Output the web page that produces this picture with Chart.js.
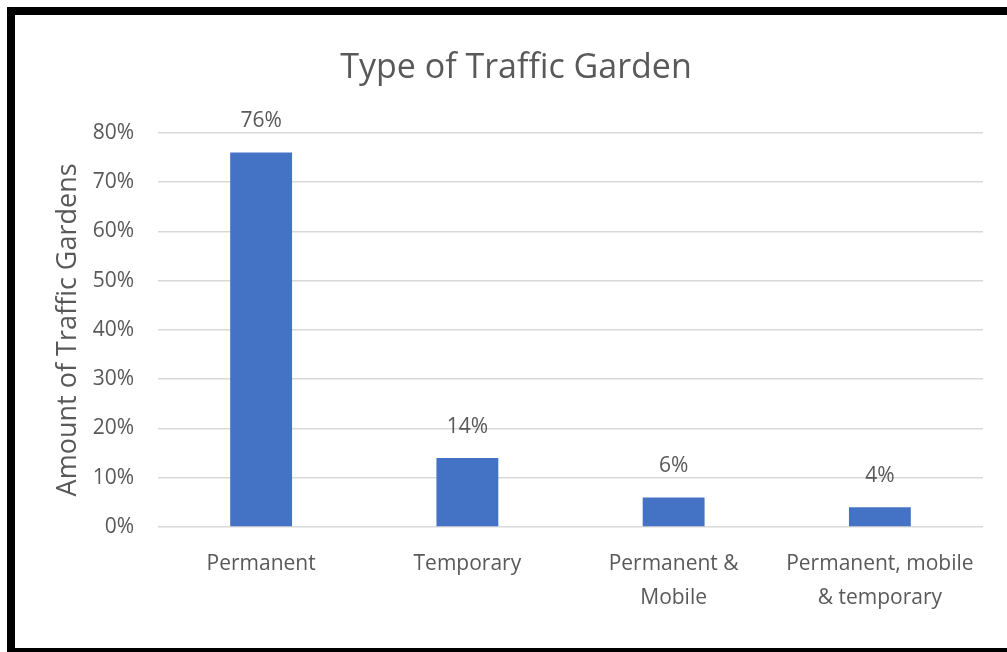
<!DOCTYPE html>
<html>
<head>
<meta charset="utf-8">
<script src="https://cdn.jsdelivr.net/npm/chart.js@4.4.1/dist/chart.umd.min.js"></script>
<style>
  html, body { margin: 0; padding: 0; background: #fff; overflow: hidden; }
  #frame {
    position: absolute; left: 7px; top: 7px;
    width: 992px; height: 633px;
    border-left: 8px solid #000; border-top: 8px solid #000; border-bottom: 8px solid #000;
    background: #fff;
  }
  #chart { display: block; }
</style>
</head>
<body>
<div id="frame"><canvas id="chart" width="992" height="633"></canvas></div>
<script>
// categories and values
const categories = [
    "Permanent",
    "Temporary",
    ["Permanent &", "Mobile"],
    ["Permanent, mobile", "& temporary"]
];
const shares = [76, 14, 6, 4];
const yTicks = [0, 10, 20, 30, 40, 50, 60, 70, 80];

const textGrey = '#595959';
const fontName = "'Open Sans', sans-serif";

// draws the percentage above each bar
const barLabels = {
    id: 'barLabels',
    afterDatasetsDraw(chart) {
        const ctx = chart.ctx;
        const meta = chart.getDatasetMeta(0);
        ctx.save();
        ctx.font = '21px ' + fontName;
        ctx.fillStyle = textGrey;
        ctx.textAlign = 'center';
        ctx.textBaseline = 'middle';
        meta.data.forEach((bar, i) => {
            ctx.fillText(shares[i] + '%', bar.x, bar.y - 31);
        });
        ctx.restore();
    }
};

new Chart(document.getElementById('chart'), {
    type: 'bar',
    data: {
        labels: categories,
        datasets: [{
            data: shares,
            backgroundColor: '#4472C4',
            borderWidth: 0,
            barPercentage: 0.3,
            categoryPercentage: 1
        }]
    },
    options: {
        responsive: false,
        animation: false,
        layout: { padding: { left: 34, right: 24, top: 0, bottom: 13 } },
        plugins: {
            legend: { display: false },
            tooltip: { enabled: false },
            title: {
                display: true,
                text: 'Type of Traffic Garden',
                color: textGrey,
                font: { family: fontName, size: 34, weight: 'normal', lineHeight: 1.2 },
                padding: { top: 33, bottom: 44 }
            }
        },
        scales: {
            x: {
                grid: { display: false, drawTicks: false },
                border: { display: false },
                ticks: {
                    color: textGrey,
                    padding: 20,
                    maxRotation: 0,
                    autoSkip: false,
                    font: { family: fontName, size: 21, lineHeight: 1.62 }
                }
            },
            y: {
                min: 0,
                max: 80,
                afterFit(scale) { scale.width = 109; },
                afterBuildTicks(scale) { scale.ticks = yTicks.map(v => ({ value: v })); },
                grid: { color: '#d9d9d9', lineWidth: 1.5, drawTicks: false },
                border: { display: false },
                ticks: {
                    color: textGrey,
                    padding: 24,
                    font: { family: fontName, size: 21 },
                    callback: v => v + '%'
                },
                title: {
                    display: true,
                    text: 'Amount of Traffic Gardens',
                    color: textGrey,
                    font: { family: fontName, size: 27, lineHeight: 1.2 },
                    padding: { top: 3, bottom: 0 }
                }
            }
        }
    },
    plugins: [barLabels]
});
</script>
</body>
</html>
